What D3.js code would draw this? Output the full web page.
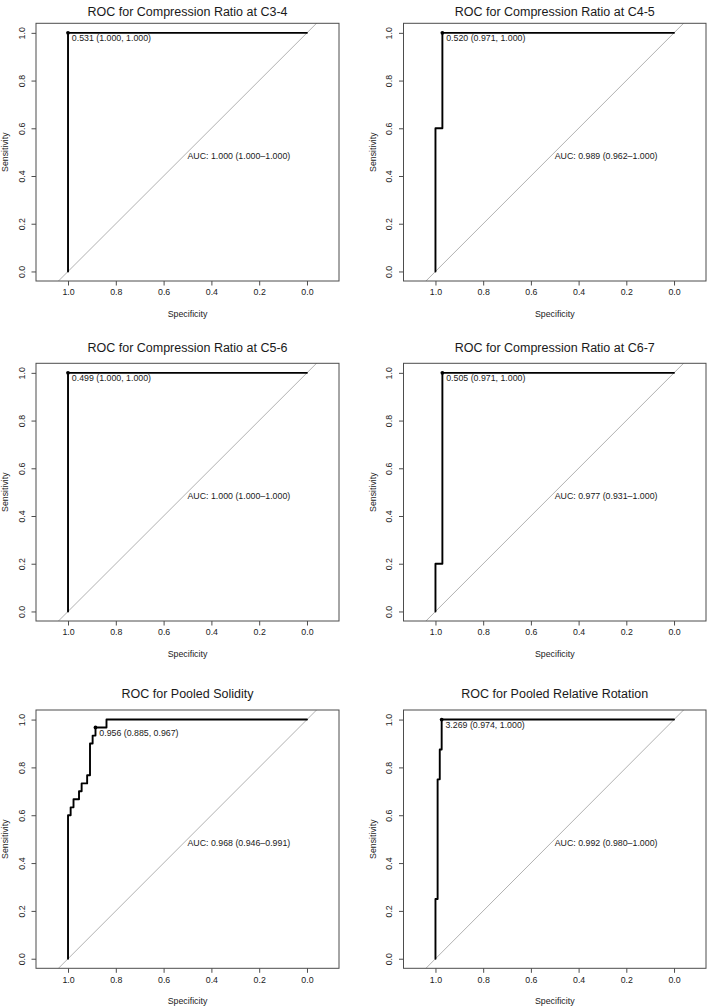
<!DOCTYPE html>
<html>
<head>
<meta charset="utf-8">
<script src="https://cdn.jsdelivr.net/npm/d3@7"></script>
<style>
  html, body { margin: 0; padding: 0; background: #fff; }
  svg { display: block; }
  text { font-family: "Liberation Sans", Arial, Helvetica, sans-serif; fill: #1a1a1a; }
</style>
</head>
<body>
<svg id="chart" width="708" height="1006"></svg>
<script>
// ---------------- data ----------------
const titles = [
  "ROC for Compression Ratio at C3-4",
  "ROC for Compression Ratio at C4-5",
  "ROC for Compression Ratio at C5-6",
  "ROC for Compression Ratio at C6-7",
  "ROC for Pooled Solidity",
  "ROC for Pooled Relative Rotation"
];
const thresholdLabels = [
  "0.531 (1.000, 1.000)",
  "0.520 (0.971, 1.000)",
  "0.499 (1.000, 1.000)",
  "0.505 (0.971, 1.000)",
  "0.956 (0.885, 0.967)",
  "3.269 (0.974, 1.000)"
];
const aucLabels = [
  "AUC: 1.000 (1.000\u20131.000)",
  "AUC: 0.989 (0.962\u20131.000)",
  "AUC: 1.000 (1.000\u20131.000)",
  "AUC: 0.977 (0.931\u20131.000)",
  "AUC: 0.968 (0.946\u20130.991)",
  "AUC: 0.992 (0.980\u20131.000)"
];
const bestSpec = [1.000, 0.971, 1.000, 0.971, 0.885, 0.974];
const bestSens = [1.000, 1.000, 1.000, 1.000, 0.967, 1.000];

const specC34 = [1, 1, 0];
const sensC34 = [0, 1, 1];
const specC45 = [1, 1, 0.971, 0.971, 0];
const sensC45 = [0, 0.6, 0.6, 1, 1];
const specC56 = [1, 1, 0];
const sensC56 = [0, 1, 1];
const specC67 = [1, 1, 0.971, 0.971, 0];
const sensC67 = [0, 0.2, 0.2, 1, 1];
const specSolidity = [1, 1, 0.989, 0.989, 0.977, 0.977, 0.954, 0.954, 0.943, 0.943, 0.920, 0.920, 0.908, 0.908, 0.897, 0.897, 0.885, 0.885, 0.839, 0.839, 0];
const sensSolidity = [0, 0.6, 0.6, 0.633, 0.633, 0.667, 0.667, 0.7, 0.7, 0.733, 0.733, 0.767, 0.767, 0.9, 0.9, 0.933, 0.933, 0.967, 0.967, 1, 1];
const specRotation = [1, 1, 0.991, 0.991, 0.982, 0.982, 0.974, 0.974, 0];
const sensRotation = [0, 0.25, 0.25, 0.75, 0.75, 0.875, 0.875, 1, 1];

const specSeries = [specC34, specC45, specC56, specC67, specSolidity, specRotation];
const sensSeries = [sensC34, sensC45, sensC56, sensC67, sensSolidity, sensRotation];

const xTicks = [1.0, 0.8, 0.6, 0.4, 0.2, 0.0];
const yTicks = [0.0, 0.2, 0.4, 0.6, 0.8, 1.0];
const xLabel = "Specificity";
const yLabel = "Sensitivity";

// ---------------- layout ----------------
const cols = [{left: 36, right: 339}, {left: 403.5, right: 706}];
const rows = [
  {top: 23.3, bottom: 281, titleY: 16},
  {top: 363.3, bottom: 621, titleY: 351.7},
  {top: 710, bottom: 968.3, titleY: 698.3}
];
const xDomain = [1.134, -0.134];
const yDomain = [-0.04, 1.04];
const fs = 8.8;
const axisColor = "#4d4d4d";

const svg = d3.select("#chart");
svg.append("rect").attr("width", 708).attr("height", 1006).attr("fill", "#fff");

titles.forEach((title, i) => {
  const c = cols[i % 2], r = rows[Math.floor(i / 2)];
  const x = d3.scaleLinear().domain(xDomain).range([c.left, c.right]);
  const y = d3.scaleLinear().domain(yDomain).range([r.bottom, r.top]);
  const g = svg.append("g");

  const clipId = "clip" + i;
  g.append("clipPath").attr("id", clipId)
    .append("rect")
    .attr("x", c.left).attr("y", r.top)
    .attr("width", c.right - c.left).attr("height", r.bottom - r.top);

  // diagonal reference line (sens = 1 - spec)
  const diag = [-0.3, 1.3];
  g.append("line")
    .attr("clip-path", `url(#${clipId})`)
    .attr("x1", x(diag[1])).attr("y1", y(1 - diag[1]))
    .attr("x2", x(diag[0])).attr("y2", y(1 - diag[0]))
    .attr("stroke", "#a8a8a8").attr("stroke-width", 0.9);

  // x axis
  const xAxis = d3.axisBottom(x).tickValues(xTicks).tickFormat(d3.format(".1f"))
    .tickSize(4.5).tickSizeOuter(0).tickPadding(3.5);
  const xg = g.append("g").attr("transform", `translate(0,${r.bottom})`).call(xAxis);
  xg.select(".domain").remove();
  xg.selectAll(".tick line").attr("stroke", axisColor);
  xg.selectAll(".tick text").attr("font-size", fs).attr("fill", "#1a1a1a")
    .attr("font-family", "Liberation Sans, Arial, sans-serif");

  // y axis
  const yAxis = d3.axisLeft(y).tickValues(yTicks).tickFormat(d3.format(".1f"))
    .tickSize(4.5).tickSizeOuter(0);
  const yg = g.append("g").attr("transform", `translate(${c.left},0)`).call(yAxis);
  yg.select(".domain").remove();
  yg.selectAll(".tick line").attr("stroke", axisColor);
  yg.selectAll(".tick text")
    .attr("font-size", fs).attr("fill", "#1a1a1a")
    .attr("font-family", "Liberation Sans, Arial, sans-serif")
    .attr("x", null).attr("dy", null)
    .attr("text-anchor", "middle")
    .attr("transform", "translate(-14.3,0) rotate(-90)")
    .attr("dominant-baseline", "central");

  // box
  g.append("rect")
    .attr("x", c.left).attr("y", r.top)
    .attr("width", c.right - c.left).attr("height", r.bottom - r.top)
    .attr("fill", "none").attr("stroke", axisColor).attr("stroke-width", 1);

  // ROC curve
  const pts = specSeries[i].map((s, k) => [s, sensSeries[i][k]]);
  const line = d3.line().x(d => x(d[0])).y(d => y(d[1]));
  g.append("path")
    .attr("d", line(pts))
    .attr("fill", "none").attr("stroke", "#000")
    .attr("stroke-width", 1.9).attr("stroke-linejoin", "round").attr("stroke-linecap", "round");

  // best threshold point
  g.append("circle")
    .attr("cx", x(bestSpec[i])).attr("cy", y(bestSens[i]))
    .attr("r", 1.9).attr("fill", "#000");
  g.append("text")
    .attr("x", x(bestSpec[i]) + 3.8).attr("y", y(bestSens[i]) + 8.3)
    .attr("font-size", fs).text(thresholdLabels[i]);

  // AUC text
  g.append("text")
    .attr("x", x(0.5)).attr("y", y(0.5) + 6.6)
    .attr("font-size", fs).text(aucLabels[i]);

  // title
  g.append("text")
    .attr("x", (c.left + c.right) / 2).attr("y", r.titleY)
    .attr("text-anchor", "middle").attr("font-size", 12.5)
    .text(title);

  // axis labels
  g.append("text")
    .attr("x", (c.left + c.right) / 2).attr("y", r.bottom + 35.5)
    .attr("text-anchor", "middle").attr("font-size", fs).text(xLabel);
  g.append("text")
    .attr("transform", `translate(${c.left - 31},${(r.top + r.bottom) / 2}) rotate(-90)`)
    .attr("text-anchor", "middle").attr("dominant-baseline", "central")
    .attr("font-size", fs).text(yLabel);
});
</script>
</body>
</html>
